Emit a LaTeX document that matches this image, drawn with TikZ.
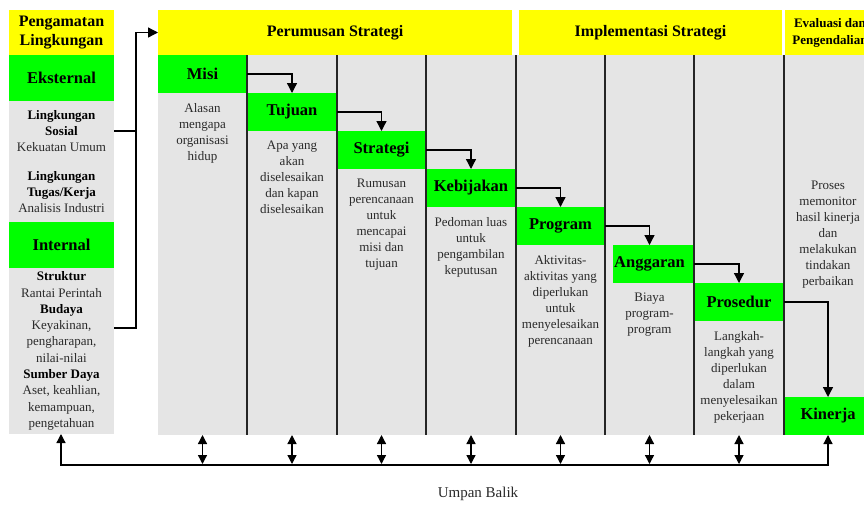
\documentclass[tikz,border=0pt]{standalone}
\usepackage{fontspec}
\setmainfont{Liberation Serif}
\usetikzlibrary{arrows.meta}
\definecolor{hyel}{HTML}{FFFF00}
\definecolor{hgrn}{HTML}{00FF00}
\definecolor{hgry}{HTML}{E5E5E5}
\definecolor{htxt}{HTML}{2A2A2A}
\newcommand{\bhd}[1]{{\color{black}\bfseries #1}}
\begin{document}
\begin{tikzpicture}[x=1pt,y=-1pt,
  hdr/.style={fill=hyel, inner sep=0pt, outer sep=0pt, anchor=north west, align=center, font=\fontsize{16}{19}\selectfont\bfseries},
  gbox/.style={fill=hgrn, inner sep=0pt, outer sep=0pt, anchor=north west, minimum height=38pt, font=\fontsize{16.5}{19}\selectfont\bfseries},
  graybox/.style={fill=hgry, inner sep=0pt, outer sep=0pt, anchor=north west, align=center, text=htxt, font=\fontsize{13}{16.3}\selectfont},
  body/.style={inner sep=0pt, anchor=north, align=center, text=htxt, font=\fontsize{13}{16}\selectfont},
  divline/.style={draw=black!85, line width=1.3pt},
  conn/.style={draw=black, line width=1.3pt},
  arr/.style={conn, -{Triangle[length=10pt,width=10pt]}},
  dbl/.style={conn, {Triangle[length=9pt,width=9pt]}-{Triangle[length=9pt,width=9pt]}},
]
\clip (0,0) rectangle (864,504);
\fill[white] (0,0) rectangle (864,504);

% left column
\node[hdr, minimum width=105pt, minimum height=45pt] (peng) at (9,10) {Pengamatan\\Lingkungan};
\node[gbox, minimum width=105pt, minimum height=46pt] (eks) at (9,55) {Eksternal};
\node[graybox, minimum width=105pt, minimum height=121pt] (eksg) at (9,101)
  {\bhd{Lingkungan}\\\bhd{Sosial}\\Kekuatan Umum\\[12pt]\bhd{Lingkungan}\\\bhd{Tugas/Kerja}\\Analisis Industri};
\node[gbox, minimum width=105pt, minimum height=46pt] (int) at (9,222) {Internal};
\node[graybox, minimum width=105pt, minimum height=166pt] (intg) at (9,268)
  {\bhd{Struktur}\\Rantai Perintah\\\bhd{Budaya}\\Keyakinan,\\pengharapan,\\nilai-nilai\\\bhd{Sumber Daya}\\Aset, keahlian,\\kemampuan,\\pengetahuan};

% headers
\node[hdr, minimum width=354pt, minimum height=45pt] (perum) at (158,10) {Perumusan Strategi};
\node[hdr, minimum width=263pt, minimum height=45pt] (impl) at (519,10) {Implementasi Strategi};
\node[hdr, minimum width=90pt, minimum height=45pt, font=\fontsize{13}{17}\selectfont\bfseries] (eval) at (785,10) {Evaluasi dan\\Pengendalian};

% main background
\node[fill=hgry, inner sep=0pt, outer sep=0pt, anchor=north west, minimum width=714pt, minimum height=380pt] (bg) at (158,55) {};

% green step boxes
\node[gbox, minimum width=89pt] (misi) at (158,55) {Misi};
\node[gbox, minimum width=90pt] (tujuan) at (247,93) {Tujuan};
\node[gbox, minimum width=89pt] (strat) at (337,131) {Strategi};
\node[gbox, minimum width=90pt] (kebij) at (426,169) {Kebijakan};
\node[gbox, minimum width=89pt] (prog) at (516,207) {Program};
\node[gbox, minimum width=81pt] (angg) at (613,245) {\hspace*{-8pt}Anggaran};
\node[gbox, minimum width=90pt] (pros) at (694,283) {Prosedur};
\node[gbox, minimum width=88pt] (kin) at (784,397) {Kinerja};

% dividers
\foreach \xx in {247,337,426,516,605,694,784}
  \draw[divline] (\xx,55) -- (\xx,435);

% body texts
\node[body] (misit) at (202.5,103) {Alasan\\mengapa\\organisasi\\hidup};
\node[body] (tujuant) at (292,141) {Apa yang\\akan\\diselesaikan\\dan kapan\\diselesaikan};
\node[body] (stratt) at (381.5,179) {Rumusan\\perencanaan\\untuk\\mencapai\\misi dan\\tujuan};
\node[body] (kebijt) at (471,217) {Pedoman luas\\untuk\\pengambilan\\keputusan};
\node[body] (progt) at (560.5,255) {Aktivitas-\\aktivitas yang\\diperlukan\\untuk\\menyelesaikan\\perencanaan};
\node[body] (anggt) at (649.5,293) {Biaya\\program-\\program};
\node[body] (prost) at (739,331) {Langkah-\\langkah yang\\diperlukan\\dalam\\menyelesaikan\\pekerjaan};
\node[body] (kint) at (828,181) {Proses\\memonitor\\hasil kinerja\\dan\\melakukan\\tindakan\\perbaikan};

% step connectors
\coordinate (anggin) at (649.5,245);
\draw[arr] (misi.east) -| (tujuan.north);
\draw[arr] (tujuan.east) -| (strat.north);
\draw[arr] (strat.east) -| (kebij.north);
\draw[arr] (kebij.east) -| (prog.north);
\draw[arr] (prog.east) -| (anggin);
\draw[arr] (angg.east) -| (pros.north);
\draw[arr] (pros.east) -| (kin.north);

% left connectors
\coordinate (jt) at (136,32.5);
\coordinate (eo) at ([yshift=-30pt]eksg.north east);
\coordinate (io) at ([yshift=-60pt]intg.north east);
\draw[conn] (eo) -- (eo -| jt);
\draw[arr] (io) -| (jt) -- (perum.west);

% feedback
\coordinate (fbl) at (61,465);
\coordinate (fbr) at (kin.south |- fbl);
\draw[dbl] (intg.south -| fbl) -- (fbl) -- (fbr) -- (kin.south);
\foreach \n in {misi,tujuan,strat,kebij,prog,anggin,pros}
  \draw[dbl] (\n |- bg.south) -- ([yshift=1pt]\n |- fbl);
\node[font=\fontsize{15}{18}\selectfont, text=htxt, inner sep=0pt] (umpan) at (478,494) {Umpan Balik};
\end{tikzpicture}
\end{document}
